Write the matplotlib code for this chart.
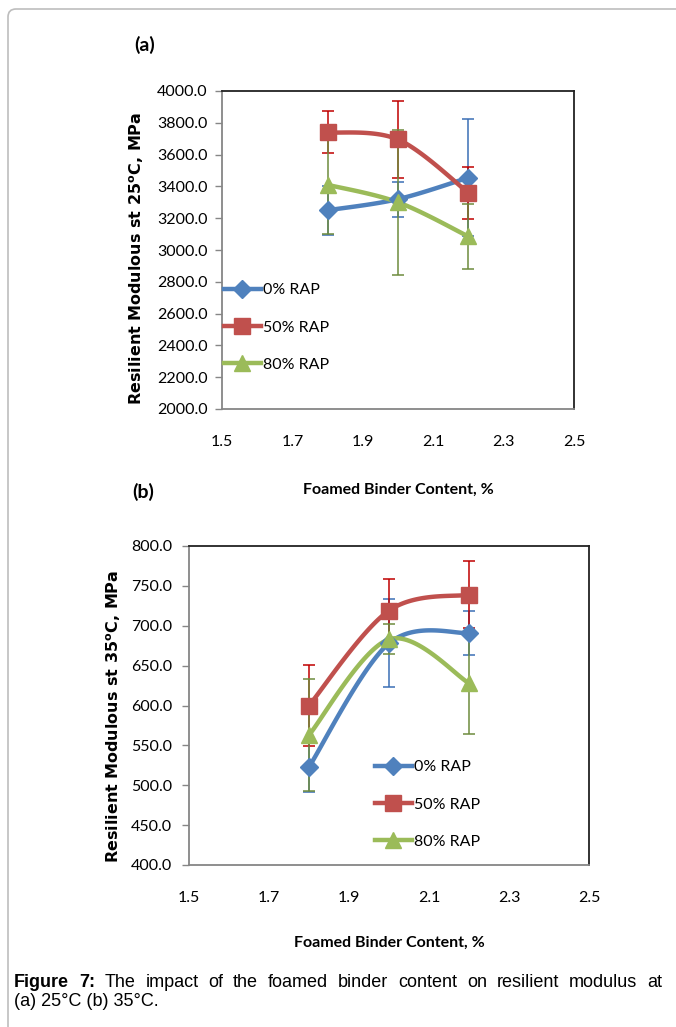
import numpy as np
import matplotlib
matplotlib.use("Agg")
import matplotlib.pyplot as plt
from matplotlib.lines import Line2D
from matplotlib.patches import FancyBboxPatch

# ---- data ----
binder = [1.8, 2.0, 2.2]
series_names = ["0% RAP", "50% RAP", "80% RAP"]

mr25_rap0 = [3250, 3320, 3455]
mr25_rap50 = [3740, 3695, 3360]
mr25_rap80 = [3410, 3300, 3085]
err25_rap0 = [155, 110, 370]
err25_rap50 = [133, 240, 165]
err25_rap80 = [310, 455, 205]

mr35_rap0 = [523, 678, 691]
mr35_rap50 = [600, 719, 739]
mr35_rap80 = [563, 683, 628]
err35_rap0 = [32, 55, 28]
err35_rap50 = [51, 40, 42]
err35_rap80 = [70, 19, 64]

xticks = [1.5, 1.7, 1.9, 2.1, 2.3, 2.5]
yticks25 = [2000, 2200, 2400, 2600, 2800, 3000, 3200, 3400, 3600, 3800, 4000]
yticks35 = [400, 450, 500, 550, 600, 650, 700, 750, 800]

colors = ["#4F81BD", "#C0504D", "#9BBB59"]
err_colors = ["#3A6FB5", "#C00000", "#6E8B3D"]
markers = ["D", "s", "^"]
msizes = [9, 11, 11]

W, H = 676, 1027


def smooth(x, y, n=40):
    # excel-like smoothed line: bezier segments, control points from neighbours
    p = np.column_stack([x, y]).astype(float)
    pts = []
    for i in range(len(p) - 1):
        p0 = p[i - 1] if i > 0 else p[i]
        p1, p2 = p[i], p[i + 1]
        p3 = p[i + 2] if i + 2 < len(p) else p[i + 1]
        c1 = p1 + (p2 - p0) / 6.0
        c2 = p2 - (p3 - p1) / 6.0
        t = np.linspace(0, 1, n)[:, None]
        seg = ((1 - t) ** 3) * p1 + 3 * ((1 - t) ** 2) * t * c1 + 3 * (1 - t) * t ** 2 * c2 + t ** 3 * p2
        pts.append(seg)
    s = np.vstack(pts)
    return s[:, 0], s[:, 1]


def fx(px):
    return px / W


def fy(py):
    return 1 - py / H


fig = plt.figure(figsize=(W / 100, H / 100), dpi=100)

# rounded frame of the figure box
bg = fig.add_axes([0, 0, 1, 1])
bg.set_xlim(0, W)
bg.set_ylim(H, 0)
bg.axis("off")
bg.add_patch(FancyBboxPatch((8, 9), W + 40, H + 40, boxstyle="round,pad=0,rounding_size=8",
                            fc="white", ec="#BDBDBD", lw=1.2))


def panel(rect, vals, errs, yticks, ylim, tickpad_y, legend_pos):
    l, t, r, b = rect
    ax = fig.add_axes([fx(l), fy(b), fx(r) - fx(l), fy(t) - fy(b)])
    for i in range(3):
        ax.errorbar(binder, vals[i], yerr=errs[i], fmt="none", ecolor=err_colors[i],
                    elinewidth=1.1, capsize=4, capthick=1.1, zorder=2)
    for i in range(3):
        sx, sy = smooth(binder, vals[i])
        ax.plot(sx, sy, color=colors[i], lw=3.2, zorder=3, solid_capstyle="round")
        ax.plot(binder, vals[i], ls="none", marker=markers[i], ms=msizes[i],
                color=colors[i], mec=colors[i], zorder=4)
    ax.set_xlim(1.5, 2.5)
    ax.set_ylim(*ylim)
    ax.set_xticks(xticks)
    ax.set_xticklabels([f"{v:.1f}" for v in xticks])
    ax.set_yticks(yticks)
    ax.set_yticklabels([f"{v:.1f}" for v in yticks])
    ax.tick_params(axis="x", length=0, pad=19, labelsize=11.5)
    ax.tick_params(axis="y", length=5, width=1, color="#868686", pad=tickpad_y, labelsize=11.5)
    for lab in ax.get_xticklabels() + ax.get_yticklabels():
        lab.set_fontfamily("Lato")
    ax.spines["left"].set_color("#868686")
    ax.spines["bottom"].set_color("#868686")
    ax.spines["top"].set_color("#222222")
    ax.spines["right"].set_color("#222222")
    for sp in ax.spines.values():
        sp.set_linewidth(1.3)
    handles = [Line2D([], [], color=colors[i], lw=3.2, marker=markers[i], ms=msizes[i])
               for i in range(3)]
    ax.legend(handles, series_names, loc="upper left", frameon=False,
              bbox_to_anchor=(fx(legend_pos[0]), fy(legend_pos[1])),
              bbox_transform=fig.transFigure, borderpad=0, borderaxespad=0,
              handlelength=2.3, handletextpad=0.15, labelspacing=1.45, numpoints=1,
              prop={"family": "Lato", "size": 11.5})
    return ax


panel((222, 91, 574, 409), [mr25_rap0, mr25_rap50, mr25_rap80],
      [err25_rap0, err25_rap50, err25_rap80], yticks25, (2000, 4000), 5.5, (224, 283))
panel((189, 546, 589, 865), [mr35_rap0, mr35_rap50, mr35_rap80],
      [err35_rap0, err35_rap50, err35_rap80], yticks35, (400, 800), 7, (375, 760))

# panel letters and axis titles
fig.text(fx(145), fy(45), "(a)", ha="center", va="center", fontsize=14, fontweight="bold", family="Lato")
fig.text(fx(143), fy(492), "(b)", ha="center", va="center", fontsize=14, fontweight="bold", family="Lato")
fig.text(fx(398), fy(490), "Foamed Binder Content, %", ha="center", va="center",
         fontsize=11.5, fontweight="bold", family="Lato")
fig.text(fx(389), fy(943), "Foamed Binder Content, %", ha="center", va="center",
         fontsize=11.5, fontweight="bold", family="Lato")
fig.text(fx(137), fy(258), r"Resilient Modulous st 25$^{\mathbf{o}}$C, MPa", rotation=90,
         ha="center", va="center", fontsize=11.5, fontweight="bold", family="DejaVu Sans")
fig.text(fx(114), fy(716), r"Resilient Modulous st 35$^{\mathbf{o}}$C, MPa", rotation=90,
         ha="center", va="center", fontsize=11.5, fontweight="bold", family="DejaVu Sans")

# caption, first line justified between x=14 and x=662
cap_fs = 13
cap_font = "Liberation Sans"
line1 = [("Figure", "bold"), ("7:", "bold"), ("The", "normal"), ("impact", "normal"), ("of", "normal"),
         ("the", "normal"), ("foamed", "normal"), ("binder", "normal"), ("content", "normal"),
         ("on", "normal"), ("resilient", "normal"), ("modulus", "normal"), ("at", "normal")]
renderer = fig.canvas.get_renderer()
words = []
for w, wt in line1:
    t = bg.text(0, 987, w, fontsize=cap_fs, fontweight=wt, family=cap_font, va="baseline")
    words.append(t)
widths = [t.get_window_extent(renderer).width for t in words]
gap = (662 - 14 - sum(widths)) / (len(words) - 1)
xpos = 14
for t, wd in zip(words, widths):
    t.set_x(xpos)
    xpos += wd + gap
bg.text(14, 1006, "(a) 25\u00b0C (b) 35\u00b0C.", fontsize=cap_fs, family=cap_font,
        va="baseline")

fig.savefig("out.png", dpi=100)
